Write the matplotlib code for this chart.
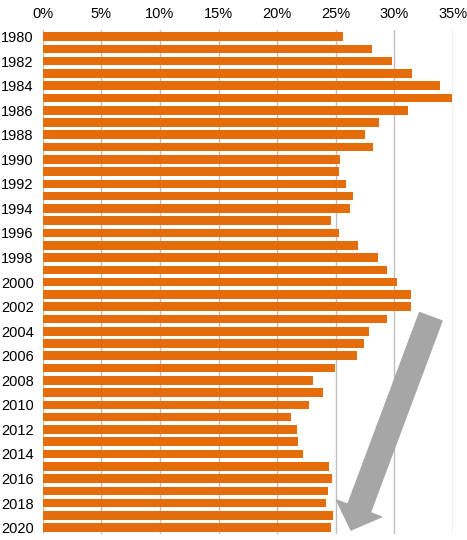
import matplotlib
matplotlib.use('Agg')
import matplotlib.pyplot as plt
from matplotlib.patches import FancyArrow

plt.rcParams['font.family'] = ['Liberation Sans', 'DejaVu Sans']

# years and share values (%)
years = list(range(1980, 2021))
shares = [25.6, 28.1, 29.8, 31.5, 33.9, 34.9, 31.2, 28.7, 27.5, 28.2,
          25.4, 25.3, 25.9, 26.5, 26.2, 24.6, 25.3, 26.9, 28.6, 29.4,
          30.2, 31.4, 31.4, 29.4, 27.8, 27.4, 26.8, 24.9, 23.1, 23.9,
          22.7, 21.2, 21.7, 21.8, 22.2, 24.4, 24.7, 24.3, 24.2, 24.8,
          24.6]
x_ticks = [0, 5, 10, 15, 20, 25, 30, 35]

fig = plt.figure(figsize=(4.67, 5.4), dpi=100)
ax = fig.add_axes([0.0914, 0.0115, 0.8786, 0.9322])

ax.barh(years, shares, height=0.7, color='#E46C0A', zorder=3)

ax.set_xlim(0, 35)
ax.set_ylim(2020.5, 1979.5)
ax.set_xticks(x_ticks)
ax.set_xticklabels([f'{t}%' for t in x_ticks])
ax.set_yticks(years[::2])
ax.xaxis.tick_top()
ax.tick_params(axis='both', length=0, labelsize=10.5, colors='#000000')
ax.tick_params(axis='x', pad=7)
ax.tick_params(axis='y', pad=6.5)

ax.grid(axis='x', color='#BFBFBF', linewidth=1, zorder=0)
for s in ax.spines.values():
    s.set_visible(False)

# grey trend arrow (drawn in inches on the figure)
arrow = FancyArrow(4.308, 2.233, -0.798, -2.133, width=0.24,
                   head_width=0.48, head_length=0.23,
                   length_includes_head=True, color='#A6A6A6',
                   transform=fig.dpi_scale_trans, zorder=5)
fig.add_artist(arrow)

fig.savefig('out.png', dpi=100)
